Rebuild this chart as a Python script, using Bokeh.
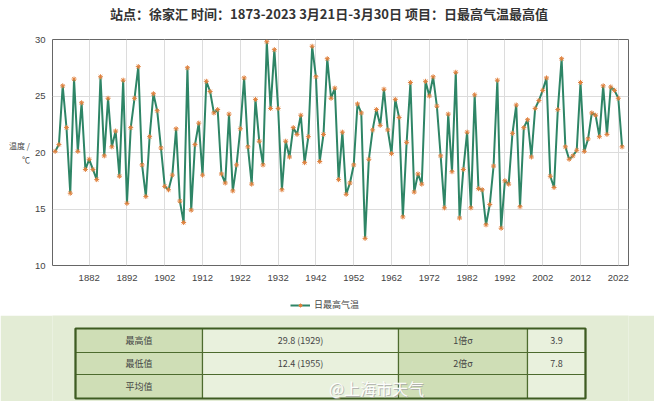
from bokeh.plotting import figure
from bokeh.models import Range1d, FixedTicker, Legend, LegendItem, ColumnDataSource
from bokeh.layouts import column
from bokeh.embed import file_html
from bokeh.resources import INLINE
from bokeh.core.properties import value

# ---------------- data ----------------
years = list(range(1873, 2024))
tmax = [
    20.1, 20.7, 25.9, 22.2, 16.4, 26.5, 20.1, 24.4, 18.5, 19.4,   # 1873-1882
    18.5, 17.6, 26.7, 19.7, 24.8, 20.5, 21.9, 17.9, 26.4, 15.5,   # 1883-1892
    22.2, 24.8, 27.6, 18.9, 16.1, 21.4, 25.2, 23.7, 20.4, 17.0,   # 1893-1902
    16.7, 18.0, 22.1, 15.7, 13.8, 27.5, 14.9, 20.7, 22.6, 18.0,   # 1903-1912
    26.3, 25.4, 23.5, 23.8, 18.1, 17.3, 23.4, 16.6, 18.9, 22.1,   # 1913-1922
    26.6, 20.5, 17.2, 24.7, 21.0, 18.9, 29.8, 23.9, 29.1, 23.9,   # 1923-1932
    16.7, 21.0, 19.6, 22.2, 21.6, 23.3, 19.1, 21.4, 29.4, 26.7,   # 1933-1942
    19.2, 21.6, 28.3, 24.8, 25.7, 17.6, 21.8, 16.3, 17.3, 18.9,   # 1943-1952
    24.3, 23.5, 12.4, 19.4, 22.0, 23.8, 22.4, 25.6, 22.0, 19.9,   # 1953-1962
    24.7, 23.1, 14.3, 20.9, 26.2, 16.5, 18.1, 17.2, 26.3, 25.0,   # 1963-1972
    26.7, 24.1, 19.7, 15.1, 23.4, 18.3, 27.1, 14.2, 18.5, 21.8,   # 1973-1982
    15.1, 25.1, 16.8, 16.7, 13.6, 15.4, 18.8, 26.4, 13.3, 17.5,   # 1983-1992
    17.2, 21.7, 24.2, 15.2, 22.2, 22.9, 19.6, 23.9, 24.6, 25.5,   # 1993-2002
    26.6, 17.9, 16.9, 23.8, 28.3, 20.5, 19.4, 19.7, 20.2, 26.2,   # 2003-2012
    20.1, 21.2, 23.5, 23.3, 21.4, 25.9, 21.6, 25.8, 25.5, 24.8,   # 2013-2022
    20.5,                                                         # 2023
]
x_ticks = [1882, 1892, 1902, 1912, 1922, 1932, 1942, 1952, 1962, 1972,
           1982, 1992, 2002, 2012, 2022]
y_ticks = [10, 15, 20, 25, 30]

title_text = "站点：徐家汇 时间：1873-2023  3月21日-3月30日 项目：日最高气温最高值"
y_title = "温度 /\n℃"
series_name = "日最高气温"

stat_labels = ["最高值", "最低值", "平均值"]
stat_values = ["29.8 (1929)", "12.4 (1955)", ""]
sigma_labels = ["1倍σ", "2倍σ", ""]
sigma_values = ["3.9", "7.8", ""]
watermark = "@上海市天气"

CJK = "Noto Sans CJK SC"
LINE_C = "#2e8566"
MARK_C = "#e0803c"
W = 654
BL, BR = 52, 26          # left / right borders shared by every row (frames align)


def strip(height, y_range=None, fill="#ffffff"):
    # x data units == page pixels inside the shared frame
    f = figure(width=W, height=height, x_range=Range1d(BL, W - BR),
               y_range=y_range or Range1d(0, 1),
               output_backend="svg", toolbar_location=None,
               min_border_left=BL, min_border_right=BR,
               min_border_top=0, min_border_bottom=0,
               x_axis_location=None, y_axis_location=None)
    f.grid.visible = False
    f.outline_line_color = None
    f.background_fill_color = fill
    f.border_fill_color = fill
    return f


# ---------------- title strip ----------------
tf = strip(26)
tf.text(x=[330], y=[0.5], text=[title_text], text_align="center",
        text_baseline="middle", text_font=value(CJK), text_font_size="13px",
        text_font_style="bold", text_color="#333333")

# ---------------- chart ----------------
p = figure(width=W, height=264,
           x_range=Range1d(1872.3, 2024.7), y_range=Range1d(10, 30),
           output_backend="svg", toolbar_location=None,
           min_border_left=BL, min_border_right=BR,
           min_border_top=13, min_border_bottom=25)
p.background_fill_color = "#ffffff"
p.outline_line_color = "#666666"
p.outline_line_width = 1

p.xaxis.ticker = FixedTicker(ticks=x_ticks)
p.yaxis.ticker = FixedTicker(ticks=y_ticks)
for ax in (p.xaxis, p.yaxis):
    ax.axis_line_color = None
    ax.major_tick_line_color = None
    ax.minor_tick_line_color = None
    ax.major_tick_out = 0
    ax.major_tick_in = 0
    ax.major_label_text_font = "Liberation Sans"
    ax.major_label_text_font_size = "9.5px"
    ax.major_label_text_color = "#444444"
p.xaxis.major_label_standoff = 9
p.yaxis.major_label_standoff = 7
p.yaxis.axis_label = y_title
p.yaxis.axis_label_orientation = "horizontal"
p.yaxis.axis_label_text_font = CJK
p.yaxis.axis_label_text_font_size = "8px"
p.yaxis.axis_label_text_font_style = "normal"
p.yaxis.axis_label_text_color = "#444444"
p.yaxis.axis_label_standoff = 2

p.xgrid.grid_line_color = "#dcdcdc"
p.ygrid.grid_line_color = "#dcdcdc"

src = ColumnDataSource(dict(year=years, t=tmax))
p.line("year", "t", source=src, line_color=LINE_C, line_width=2)
p.scatter("year", "t", source=src, marker="asterisk", size=5,
          line_color=MARK_C, line_width=1)

# ---------------- legend strip ----------------
# same source, but the strip's ranges keep the series itself out of view;
# only the legend entry is visible here
lf = strip(25)
lg_line = lf.line("year", "t", source=src, line_color=LINE_C, line_width=2)
lg_mark = lf.scatter("year", "t", source=src, marker="asterisk", size=5,
                     line_color=MARK_C, line_width=1)
legend = Legend(items=[LegendItem(label=series_name, renderers=[lg_line, lg_mark])],
                orientation="horizontal", location=(238, 4),
                label_text_font=CJK, label_text_font_size="9px",
                label_text_color="#444444", border_line_color=None,
                background_fill_alpha=0, glyph_width=20, glyph_height=10,
                padding=2, margin=0, label_standoff=4)
lf.add_layout(legend, "center")

# ---------------- table ----------------
BAND = "#e3ecd5"
t = strip(86, y_range=Range1d(86, 0), fill=BAND)

col_edges = [75, 202, 398, 527, 585]
row_edges = [13, 37, 59, 83]
col_fill = ["#cfdeb6", "#e9f1dd", "#cfdeb6", "#e9f1dd"]

lefts, rights, tops, bottoms, fills = [], [], [], [], []
for r in range(3):
    for c in range(4):
        lefts.append(col_edges[c]); rights.append(col_edges[c + 1])
        tops.append(row_edges[r]); bottoms.append(row_edges[r + 1])
        fills.append(col_fill[c])
t.quad(left=lefts, right=rights, top=tops, bottom=bottoms, fill_color=fills,
       line_color="#4d6b2e", line_width=1.2)
t.quad(left=[col_edges[0]], right=[col_edges[-1]], top=[row_edges[0]],
       bottom=[row_edges[-1]], fill_alpha=0, line_color="#3e5c22", line_width=2.2)

cells_x, cells_y, cells_t = [], [], []
columns_text = [stat_labels, stat_values, sigma_labels, sigma_values]
for c, texts in enumerate(columns_text):
    for r, s in enumerate(texts):
        cells_x.append((col_edges[c] + col_edges[c + 1]) / 2)
        cells_y.append((row_edges[r] + row_edges[r + 1]) / 2)
        cells_t.append(s)
t.text(x=cells_x, y=cells_y, text=cells_t, text_align="center",
       text_baseline="middle", text_font=value(CJK), text_font_size="9px",
       text_color="#444444")

# watermark (shadow + light face)
t.text(x=[376], y=[72], text=[watermark], text_align="center",
       text_baseline="middle", text_font=value(CJK), text_font_size="16px",
       text_color="#a8a8a8", text_alpha=0.8, x_offset=1, y_offset=1)
t.text(x=[376], y=[72], text=[watermark], text_align="center",
       text_baseline="middle", text_font=value(CJK), text_font_size="16px",
       text_color="#ffffff", text_alpha=0.95)

layout = column(tf, p, lf, t, spacing=0)
open("out.html", "w").write(file_html(layout, INLINE))
